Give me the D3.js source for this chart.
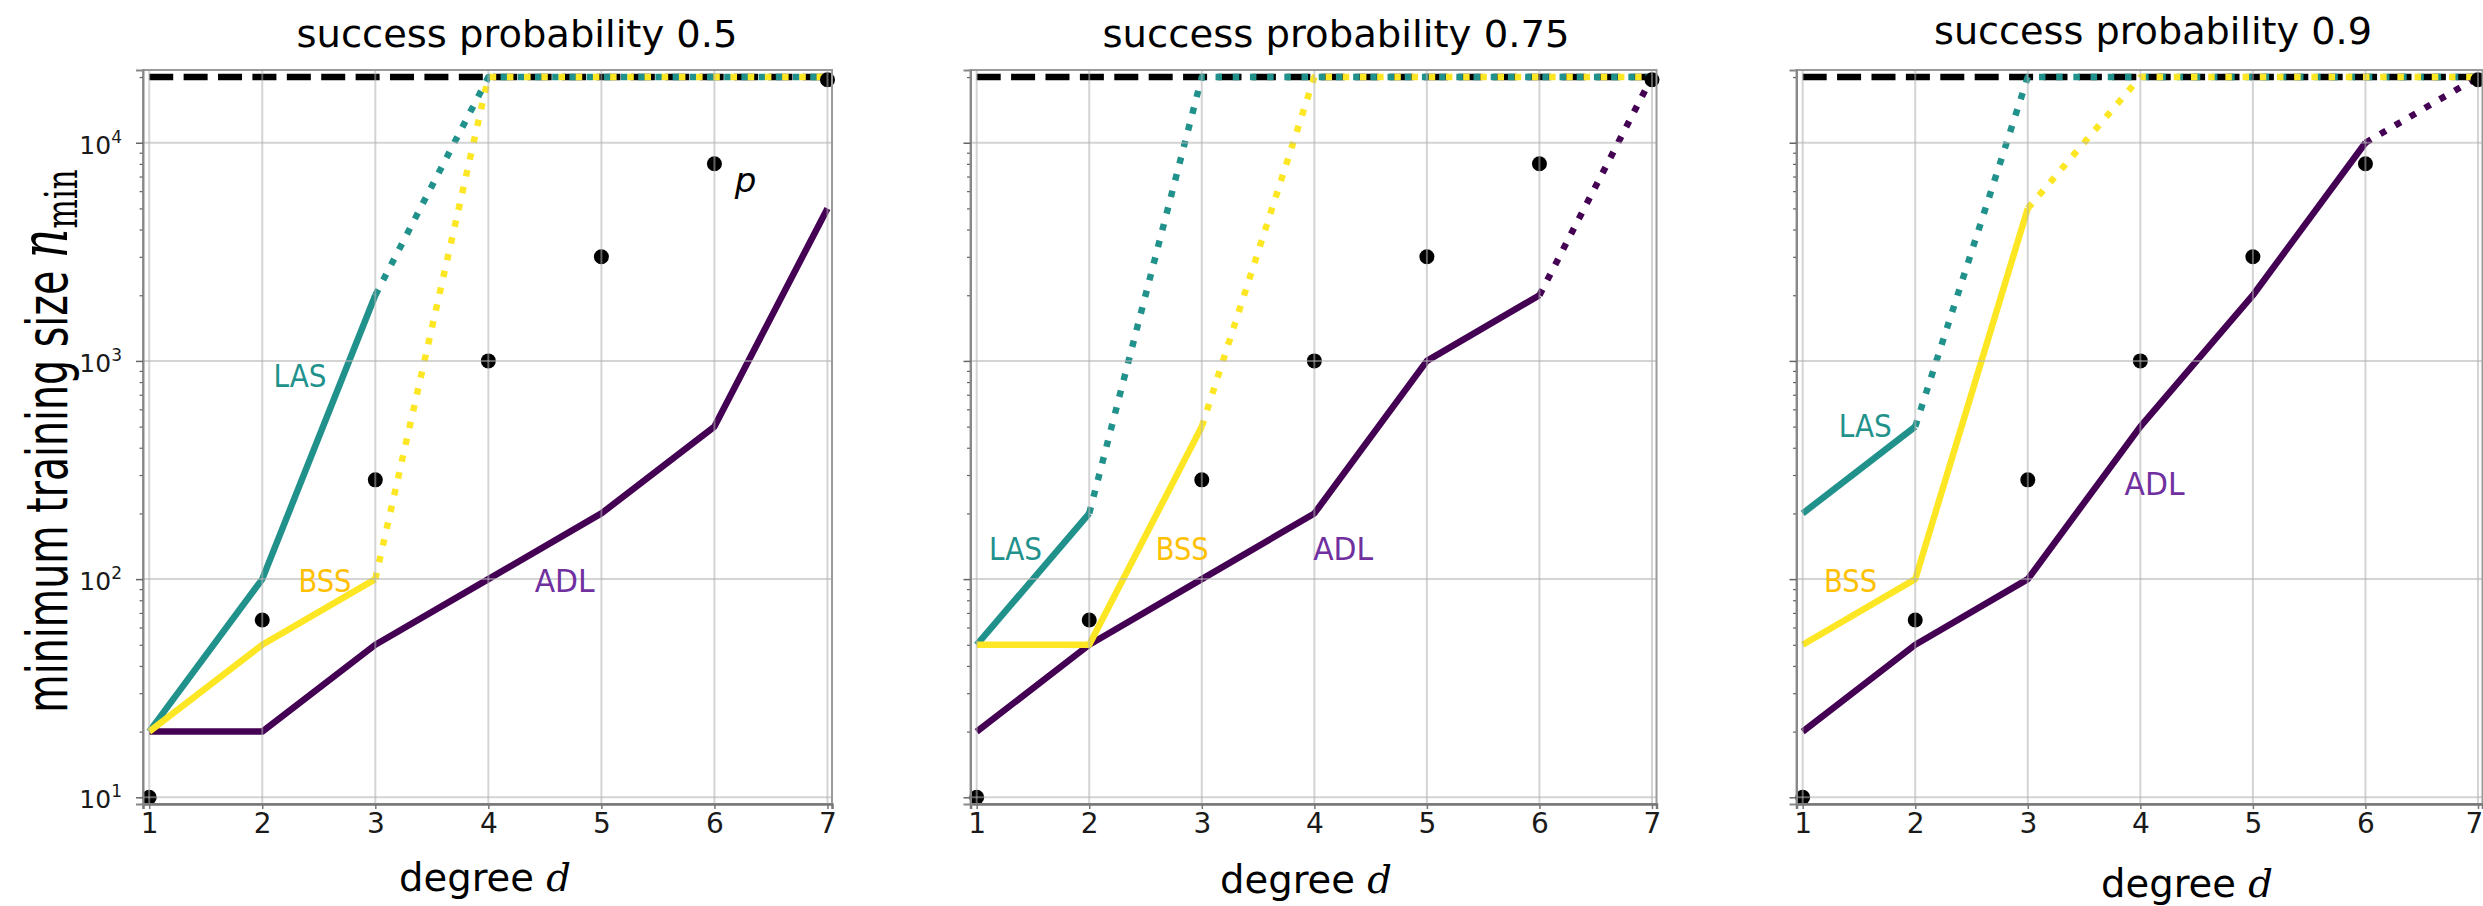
<!DOCTYPE html>
<html>
<head>
<meta charset="utf-8">
<script src="https://cdn.jsdelivr.net/npm/d3@7"></script>
<style>
  body { margin: 0; background: #fff; }
  svg { display: block; }
  text { font-family: "DejaVu Sans", sans-serif; }
</style>
</head>
<body>
<svg id="chart" width="2483" height="906"></svg>
<script>
// ---------- data ----------
const degrees = [1, 2, 3, 4, 5, 6, 7];
const xTickLabels = ["1", "2", "3", "4", "5", "6", "7"];
const yTickValues = [10, 100, 1000, 10000];
const yTickExponents = ["1", "2", "3", "4"];
const probabilities = ["0.5", "0.75", "0.9"];
const nCap = 20000;                                   // budget ceiling (dashed line)
const pCounts = [10, 65, 285, 1000, 3002, 8007, 19447]; // number of parameters p

// minimum training size per degree; the first `...Solid` points are reached,
// the rest runs (dotted) up to the ceiling
const lasValues = [
  [20, 100, 2000, 20000, 20000, 20000, 20000],
  [50, 200, 20000, 20000, 20000, 20000, 20000],
  [200, 500, 20000, 20000, 20000, 20000, 20000]
];
const lasSolid = [3, 2, 2];
const bssValues = [
  [20, 50, 100, 20000, 20000, 20000, 20000],
  [50, 50, 500, 20000, 20000, 20000, 20000],
  [50, 100, 5000, 20000, 20000, 20000, 20000]
];
const bssSolid = [3, 3, 3];
const adlValues = [
  [20, 20, 50, 100, 200, 500, 5000],
  [20, 50, 100, 200, 1000, 2000, 20000],
  [20, 50, 100, 500, 2000, 10000, 20000]
];
const adlSolid = [7, 6, 6];

// label anchors (degree, n) per panel
const lasLabelAt = [[2.10, 759], [1.11, 122], [1.32, 448]];
const bssLabelAt = [[2.32, 87.3], [2.59, 122], [1.19, 87.3]];
const adlLabelAt = [[4.41, 87.3], [3.99, 122], [3.86, 243]];
const pLabelAt = [6.18, 5943];

// ---------- layout ----------
const panelLeft = [143, 970.5, 1796.5];
const panelWidth = [689, 686, 686];
const plotTop = 70, plotBottom = 804;
const titlePos = [[517, 47, 441], [1336, 47, 467], [2153, 44, 438]];
const xLabelPos = [[485, 891], [1306, 893], [2187, 897]];
const pageWidth = 2483;

const colors = { LAS: "#21918c", BSS: "#fde725", ADL: "#440154" };
const labelColors = { LAS: "#21918c", BSS: "#ffc000", ADL: "#7030a0" };
const lw = 6.5;

const svg = d3.select("#chart");

const y = d3.scaleLog().domain([9.318, 21544]).range([plotBottom, plotTop]);
const minorTicks = [];
[1, 10, 100, 1000, 10000].forEach(b => {
  for (let k = 2; k <= 9; k++) {
    const v = b * k;
    if (v > 9.318 && v < 21544) minorTicks.push(v);
  }
});

function drawPanel(i) {
  const L = panelLeft[i], W = panelWidth[i];
  const x = d3.scaleLinear().domain([0.945, 7.04]).range([L, L + W]);
  const g = svg.append("g");

  const line = d3.line().x(d => x(d[0])).y(d => y(d[1]));

  // ceiling
  g.append("path")
    .datum(degrees.map(d => [d, nCap]))
    .attr("d", line)
    .attr("fill", "none").attr("stroke", "#000")
    .attr("stroke-width", lw).attr("stroke-dasharray", "24 10.4");

  const series = [
    ["ADL", adlValues[i], adlSolid[i]],
    ["LAS", lasValues[i], lasSolid[i]],
    ["BSS", bssValues[i], bssSolid[i]]
  ];
  series.forEach(([name, vals, solid]) => {
    const pts = degrees.map((d, k) => [d, vals[k]]);
    if (solid < pts.length) {
      g.append("path")
        .datum(pts.slice(solid - 1))
        .attr("d", line)
        .attr("fill", "none").attr("stroke", colors[name])
        .attr("stroke-width", lw).attr("stroke-dasharray", "6.5 10.7")
        .attr("stroke-linejoin", "round");
    }
    g.append("path")
      .datum(pts.slice(0, solid))
      .attr("d", line)
      .attr("fill", "none").attr("stroke", colors[name])
      .attr("stroke-width", lw)
      .attr("stroke-linejoin", "round");
  });

  // parameter counts p
  g.selectAll("circle.p")
    .data(degrees.map((d, k) => [d, pCounts[k]]))
    .join("circle")
    .attr("cx", d => x(d[0])).attr("cy", d => y(d[1]))
    .attr("r", 7.5).attr("fill", "#000");

  // grid
  g.append("g").selectAll("line")
    .data(degrees).join("line")
    .attr("x1", d => x(d)).attr("x2", d => x(d))
    .attr("y1", plotTop).attr("y2", plotBottom)
    .attr("stroke", "#b0b0b0").attr("stroke-opacity", 0.55).attr("stroke-width", 2);
  g.append("g").selectAll("line")
    .data(yTickValues).join("line")
    .attr("x1", L).attr("x2", L + W)
    .attr("y1", d => y(d)).attr("y2", d => y(d))
    .attr("stroke", "#b0b0b0").attr("stroke-opacity", 0.55).attr("stroke-width", 2);

  // frame
  g.append("rect")
    .attr("x", L).attr("y", plotTop).attr("width", W).attr("height", plotBottom - plotTop)
    .attr("fill", "none").attr("stroke", "#9a9a9a").attr("stroke-width", 2);

  // x axis
  const xAxis = g.append("g")
    .attr("transform", `translate(0,${plotBottom})`)
    .call(d3.axisBottom(x).tickValues(degrees).tickSize(5)
      .tickFormat((d, k) => xTickLabels[k]));
  xAxis.select(".domain").attr("stroke", "#777").attr("stroke-width", 2.5);
  xAxis.selectAll(".tick line").attr("stroke", "#777").attr("stroke-width", 1.5);
  xAxis.selectAll(".tick text")
    .attr("y", 29).attr("dy", 0)
    .attr("font-family", "DejaVu Sans").attr("font-size", 28).attr("fill", "#1a1a1a")
    // keep the last label inside the page edge
    .attr("dx", d => (x(d) + 9 > pageWidth ? pageWidth - 9 - x(d) : 0));

  // y axis: minor ticks
  const yMinor = g.append("g")
    .attr("transform", `translate(${L},0)`)
    .call(d3.axisLeft(y).tickValues(minorTicks).tickSize(3.5).tickFormat(""));
  yMinor.select(".domain").remove();
  yMinor.selectAll(".tick line").attr("stroke", "#666").attr("stroke-width", 1.2);

  // y axis: major ticks
  const yAxis = g.append("g")
    .attr("transform", `translate(${L},0)`)
    .call(d3.axisLeft(y).tickValues(yTickValues).tickSize(7).tickFormat(""));
  yAxis.select(".domain").attr("stroke", "#888").attr("stroke-width", 2);
  yAxis.selectAll(".tick line").attr("stroke", "#666").attr("stroke-width", 1.5);
  if (i === 0) {
    yAxis.selectAll(".tick text").each(function (d, k) {
      const t = d3.select(this)
        .attr("x", -21).attr("dy", 10.5)
        .attr("text-anchor", "end")
        .attr("font-family", "DejaVu Sans").attr("font-size", 25).attr("fill", "#1a1a1a")
        .text("10");
      t.append("tspan").attr("dy", -11).attr("font-size", 17).text(yTickExponents[k]);
    });
  }

  // title
  g.append("text")
    .attr("x", titlePos[i][0]).attr("y", titlePos[i][1])
    .attr("text-anchor", "middle").attr("font-size", 38)
    .attr("textLength", titlePos[i][2]).attr("lengthAdjust", "spacingAndGlyphs")
    .attr("fill", "#000")
    .text("success probability " + probabilities[i]);

  // x label
  const xl = g.append("text")
    .attr("x", xLabelPos[i][0]).attr("y", xLabelPos[i][1])
    .attr("text-anchor", "middle").attr("font-size", 38.5).attr("fill", "#000");
  xl.append("tspan").text("degree ");
  xl.append("tspan").attr("font-family", "DejaVu Serif").attr("font-style", "italic").text("d");

  // method labels
  [["LAS", lasLabelAt[i], 53], ["BSS", bssLabelAt[i], 53], ["ADL", adlLabelAt[i], 60]]
    .forEach(([name, pos, len]) => {
      g.append("text")
        .attr("x", x(pos[0])).attr("y", y(pos[1]))
        .attr("font-size", 32).attr("fill", labelColors[name])
        .attr("textLength", len).attr("lengthAdjust", "spacingAndGlyphs")
        .text(name);
    });

  if (i === 0) {
    g.append("text")
      .attr("x", x(pLabelAt[0])).attr("y", y(pLabelAt[1]))
      .attr("font-family", "DejaVu Serif").attr("font-style", "italic")
      .attr("font-size", 34).attr("fill", "#000")
      .text("p");
  }
}

[0, 1, 2].forEach(drawPanel);

// shared y label
const yl = svg.append("text")
  .attr("transform", "translate(67,441) rotate(-90) scale(1,1.45)")
  .attr("text-anchor", "middle").attr("font-size", 39.5).attr("fill", "#000");
yl.append("tspan").text("minimum training size ");
yl.append("tspan").attr("font-family", "DejaVu Serif").attr("font-style", "italic").attr("font-size", 46).text("n");
yl.append("tspan").attr("font-family", "DejaVu Serif").attr("font-size", 31).attr("dy", 7).text("min");
</script>
</body>
</html>
